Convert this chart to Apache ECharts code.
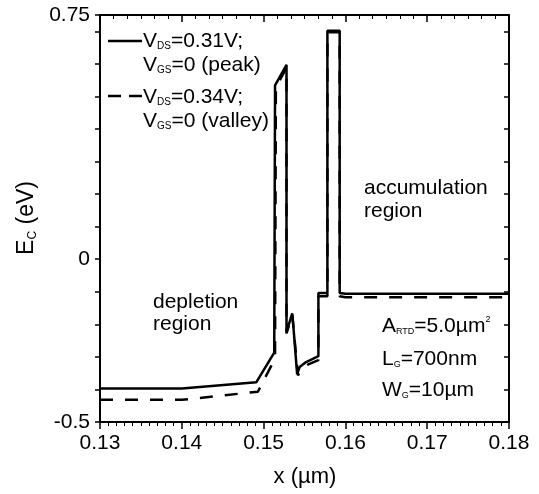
<!DOCTYPE html>
<html>
<head>
<meta charset="utf-8">
<script src="https://cdn.jsdelivr.net/npm/echarts@6/dist/echarts.min.js"></script>
<style>
  html, body { margin: 0; padding: 0; background: #fff; }
  #chart { width: 539px; height: 494px; }
</style>
</head>
<body>
<div id="chart"></div>
<script>
// Conduction band edge along the channel, peak bias (solid)
const peakX = [0.13, 0.14, 0.1491, 0.1513, 0.1514, 0.1528, 0.1528, 0.1535, 0.1536, 0.1541, 0.1544, 0.1552, 0.1567, 0.1567, 0.1578, 0.1578, 0.1593, 0.1593, 0.1600, 0.18];
const peakE = [-0.397, -0.397, -0.378, -0.287, 0.534, 0.597, -0.224, -0.166, -0.193, -0.353, -0.331, -0.316, -0.298, -0.104, -0.104, 0.702, 0.702, -0.104, -0.106, -0.106];

// Same profile at valley bias (dashed)
const valleyX = [0.13, 0.14, 0.1493, 0.1514, 0.1515, 0.1528, 0.1528, 0.1535, 0.1536, 0.1542, 0.1546, 0.1554, 0.1567, 0.1567, 0.1578, 0.1578, 0.1593, 0.1593, 0.1600, 0.18];
const valleyE = [-0.432, -0.432, -0.407, -0.305, 0.527, 0.588, -0.228, -0.170, -0.196, -0.357, -0.338, -0.324, -0.310, -0.114, -0.114, 0.697, 0.697, -0.114, -0.117, -0.117];

// Axis ranges and the labels shown on the energy axis
const xRange = [0.13, 0.18];
const yRange = [-0.5, 0.75];
const yTickLabels = ['-0.5', '0', '0.75'];

const FONT = 'Liberation Sans, Arial, Helvetica, sans-serif';
const zip = (xs, ys) => xs.map((x, i) => [x, ys[i]]);

function richSet(main, sub) {
  return {
    m: { fontSize: main, fontFamily: FONT, color: '#000' },
    s: { fontSize: sub, fontFamily: FONT, color: '#000', verticalAlign: 'bottom' },
    p: { fontSize: sub, fontFamily: FONT, color: '#000', verticalAlign: 'top' }
  };
}
const richNote = richSet(21, 9);
const richLegend = richSet(21, 10);
const richTitle = richSet(23, 12);

function label(text, x, y, rich, extra) {
  const el = {
    type: 'text', x: x, y: y, silent: true,
    style: { text: text, rich: rich || richNote, fill: '#000', align: 'left', verticalAlign: 'middle' }
  };
  if (extra) {
    Object.assign(el.style, extra.style || {});
    if (extra.rotation !== undefined) el.rotation = extra.rotation;
  }
  return el;
}

const axisLine = { show: true, onZero: false, lineStyle: { color: '#000', width: 2 } };

const chart = echarts.init(document.getElementById('chart'), null, { renderer: 'canvas' });
chart.setOption({
  animation: false,
  backgroundColor: '#fff',
  grid: { left: 100, right: 30, top: 15, bottom: 72, containLabel: false },
  xAxis: [
    {
      type: 'value', position: 'bottom', min: xRange[0], max: xRange[1], interval: 0.01,
      axisLine: axisLine,
      axisTick: { show: true, inside: false, length: 7, lineStyle: { color: '#000', width: 1.5 } },
      minorTick: { show: true, splitNumber: 10, length: 4, lineStyle: { color: '#000', width: 1 } },
      axisLabel: {
        show: true, margin: 11, color: '#000', fontSize: 21, fontFamily: FONT,
        showMinLabel: true, showMaxLabel: true,
        formatter: v => v.toFixed(2)
      },
      splitLine: { show: false }
    },
    {
      type: 'value', position: 'top', min: xRange[0], max: xRange[1], interval: 0.01,
      axisLine: axisLine,
      axisTick: { show: true, inside: true, length: 7, lineStyle: { color: '#000', width: 1.5 } },
      minorTick: { show: true, splitNumber: 6, length: 4, lineStyle: { color: '#000', width: 1 } },
      axisLabel: { show: false },
      splitLine: { show: false }
    }
  ],
  yAxis: [
    {
      type: 'value', position: 'left', min: yRange[0], max: yRange[1], interval: 0.1,
      axisLine: axisLine,
      axisTick: { show: true, inside: false, length: 5, lineStyle: { color: '#000', width: 1.5 } },
      axisLabel: {
        show: true, margin: 10, color: '#000', fontSize: 21, fontFamily: FONT,
        showMinLabel: true, showMaxLabel: true,
        formatter: v => {
          const hit = yTickLabels.find(t => Math.abs(parseFloat(t) - v) < 1e-9);
          return hit === undefined ? '' : hit;
        }
      },
      splitLine: { show: false }
    },
    {
      type: 'value', position: 'right', min: yRange[0], max: yRange[1], interval: 0.1,
      axisLine: axisLine,
      axisTick: { show: true, inside: true, length: 5, lineStyle: { color: '#000', width: 1.5 } },
      axisLabel: { show: false },
      splitLine: { show: false }
    }
  ],
  series: [
    {
      name: 'peak', type: 'line', xAxisIndex: 0, yAxisIndex: 0,
      data: zip(peakX, peakE), showSymbol: false, symbol: 'none',
      lineStyle: { color: '#000', width: 2.5, type: 'solid' }
    },
    {
      name: 'valley', type: 'line', xAxisIndex: 0, yAxisIndex: 0,
      data: zip(valleyX, valleyE), showSymbol: false, symbol: 'none',
      lineStyle: { color: '#000', width: 2.5, type: [13, 12] }
    }
  ],
  graphic: [
    // axis titles
    label('{m|x (µm)}', 305, 477, richSet(22, 10), { style: { align: 'center' } }),
    label('{m|E}{s|C}{m| (eV)}', 27, 218, richTitle, { rotation: Math.PI / 2, style: { align: 'center' } }),

    // legend
    { type: 'line', silent: true, shape: { x1: 108, y1: 41, x2: 142, y2: 41 }, style: { stroke: '#000', lineWidth: 2.5 } },
    label('{m|V}{s|DS}{m|=0.31V;}', 143, 41, richLegend),
    label('{m|V}{s|GS}{m|=0 (peak)}', 143, 65, richLegend),
    { type: 'line', silent: true, shape: { x1: 108, y1: 96, x2: 142, y2: 96 }, style: { stroke: '#000', lineWidth: 2.5, lineDash: [13, 8] } },
    label('{m|V}{s|DS}{m|=0.34V;}', 143, 97, richLegend),
    label('{m|V}{s|GS}{m|=0 (valley)}', 143, 121, richLegend),

    // region notes
    label('{m|accumulation}', 364, 188),
    label('{m|region}', 364, 211),
    label('{m|depletion}', 153, 302),
    label('{m|region}', 153, 324),

    // device parameters
    label('{m|A}{s|RTD}{m|=5.0µm}{p|2}', 382, 326),
    label('{m|L}{s|G}{m|=700nm}', 382, 359),
    label('{m|W}{s|G}{m|=10µm}', 382, 390)
  ]
});
</script>
</body>
</html>
